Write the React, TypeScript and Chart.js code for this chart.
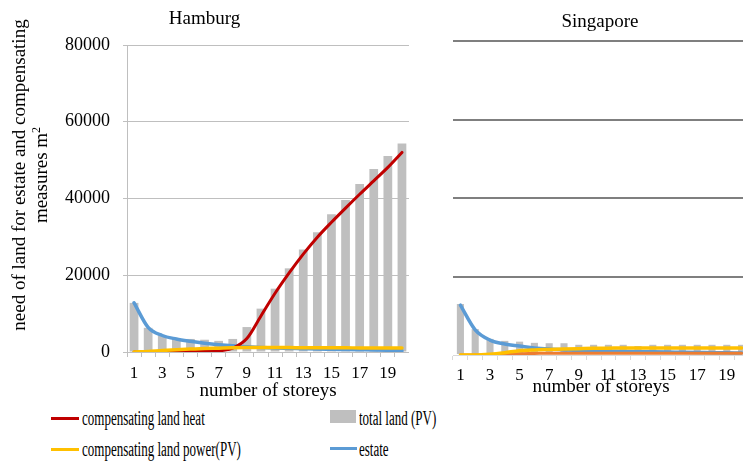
import React, { useEffect, useRef } from 'react';
import { Chart, registerables } from 'chart.js';

Chart.register(...registerables);

const FONT = "'Liberation Serif', 'Times New Roman', serif";

const storeys = ['1', '2', '3', '4', '5', '6', '7', '8', '9', '10', '11', '12', '13', '14', '15', '16', '17', '18', '19', '20'];
const yTickValues = [0, 20000, 40000, 60000, 80000];

// Hamburg
const hamburgTotal = [12800, 6300, 4200, 3600, 3400, 3200, 2900, 3400, 6500, 11300, 16500, 21800, 26700, 31200, 35900, 39600, 43800, 47700, 51100, 54300];
const hamburgHeat = [0, 0, 50, 100, 150, 200, 300, 1000, 3500, 9400, 15300, 20600, 25500, 29900, 33800, 37500, 41100, 44600, 48100, 52000];
const hamburgPower = [0, 150, 400, 600, 750, 900, 1000, 1100, 1150, 1150, 1150, 1150, 1100, 1100, 1100, 1100, 1050, 1050, 1050, 1050];
const hamburgEstate = [12800, 6400, 4300, 3400, 2800, 2300, 1900, 1600, 1400, 1200, 1050, 950, 850, 750, 700, 650, 600, 550, 450, 300];

// Singapore
const singaporeTotal = [13000, 6600, 4100, 3600, 3400, 3100, 3000, 3000, 2600, 2600, 2600, 2600, 2300, 2600, 2600, 2600, 2600, 2600, 2600, 2600];
const singaporeHeat = [0, 0, 50, 200, 350, 400, 450, 450, 450, 450, 450, 450, 450, 450, 450, 450, 450, 450, 450, 450];
const singaporePower = [0, 0, 200, 600, 1100, 1300, 1400, 1500, 1600, 1700, 1750, 1800, 1800, 1800, 1800, 1800, 1800, 1800, 1800, 1800];
const singaporeEstate = [12700, 6400, 3800, 2800, 2300, 1800, 1500, 1300, 1150, 1000, 950, 900, 850, 800, 750, 700, 650, 600, 550, 500];

const legendLabels = ['compensating land heat', 'compensating land power(PV)', 'total land (PV)', 'estate'];

const RED = '#C00000';
const ORANGE = '#ED7D31';
const YELLOW = '#FFC000';
const BLUE = '#5B9BD5';
const GRAY = '#BFBFBF';

function lineDs(label: string, data: number[], color: string, width: number, order: number) {
  return {
    type: 'line' as const,
    label,
    data,
    borderColor: color,
    backgroundColor: color,
    borderWidth: width,
    pointRadius: 0,
    cubicInterpolationMode: 'monotone' as const,
    borderCapStyle: 'round' as const,
    order,
  };
}

function makeConfig(kind: 'hamburg' | 'singapore'): any {
  const isH = kind === 'hamburg';
  const total = isH ? hamburgTotal : singaporeTotal;
  const heat = isH ? hamburgHeat : singaporeHeat;
  const power = isH ? hamburgPower : singaporePower;
  const estate = isH ? hamburgEstate : singaporeEstate;
  const axisCol = isH ? '#BFBFBF' : '#D9D9D9';
  return {
    type: 'bar',
    data: {
      labels: storeys,
      datasets: [
        lineDs(legendLabels[1], power, YELLOW, 3.5, 0),
        lineDs(legendLabels[0], heat, isH ? RED : ORANGE, 3, 1),
        lineDs(legendLabels[3], estate, BLUE, 3.5, 2),
        {
          type: 'bar',
          label: legendLabels[2],
          data: total,
          backgroundColor: GRAY,
          barPercentage: isH ? 0.62 : 0.48,
          categoryPercentage: 1,
          order: 3,
        },
      ],
    },
    options: {
      responsive: true,
      maintainAspectRatio: false,
      animation: false,
      layout: { padding: isH ? 0 : { left: 11 } },
      plugins: {
        legend: { display: false },
        tooltip: { enabled: false },
        title: {
          display: true,
          text: isH ? 'Hamburg' : 'Singapore',
          color: '#000',
          font: { family: FONT, size: 19, weight: 'normal' },
          padding: isH ? { top: 7.5, bottom: 14.7 } : { top: 10.6, bottom: 7.6 },
        },
      },
      scales: {
        x: {
          grid: {
            display: true,
            drawOnChartArea: false,
            drawTicks: true,
            tickLength: 5,
            color: axisCol,
            offset: true,
          },
          border: { display: true, color: axisCol },
          ticks: {
            autoSkip: false,
            maxRotation: 0,
            minRotation: 0,
            padding: isH ? 6 : 5,
            color: '#000',
            font: { family: FONT, size: 17 },
            callback: (_v: any, i: number) => (i % 2 === 0 ? storeys[i] : ''),
          },
          title: {
            display: true,
            text: 'number of storeys',
            color: '#000',
            font: { family: FONT, size: 19 },
            padding: { top: 0, bottom: 0 },
          },
          afterFit: (s: any) => {
            s.height = isH ? 50 : 43;
          },
        },
        y: {
          min: yTickValues[0],
          max: yTickValues[yTickValues.length - 1],
          afterBuildTicks: (s: any) => {
            s.ticks = yTickValues.map((v) => ({ value: v }));
          },
          ticks: {
            display: isH,
            padding: 13,
            color: '#000',
            font: { family: FONT, size: 18 },
            callback: (v: any) => String(v),
          },
          grid: isH
            ? { color: '#BFBFBF', lineWidth: 1, drawTicks: true, tickLength: 4 }
            : {
                color: (c: any) => (c.tick && c.tick.value === 0 ? 'rgba(0,0,0,0)' : '#7F7F7F'),
                lineWidth: 2,
                drawTicks: false,
              },
          border: isH ? { display: true, color: '#BFBFBF' } : { display: false },
          afterFit: (s: any) => {
            s.width = isH ? 127 : 2;
          },
        },
      },
    },
  };
}

function ChartBox(props: { kind: 'hamburg' | 'singapore'; style: React.CSSProperties }) {
  const ref = useRef<HTMLCanvasElement | null>(null);
  useEffect(() => {
    if (!ref.current) return;
    const chart = new Chart(ref.current, makeConfig(props.kind));
    return () => chart.destroy();
  }, [props.kind]);
  return (
    <div style={{ position: 'absolute', ...props.style }}>
      <canvas ref={ref} />
    </div>
  );
}

const legendText: React.CSSProperties = {
  position: 'absolute',
  fontFamily: FONT,
  fontSize: 20,
  lineHeight: '24px',
  color: '#000',
  whiteSpace: 'nowrap',
  transform: 'scaleX(0.65)',
  transformOrigin: 'left center',
};

export default function App() {
  return (
    <div
      style={{
        position: 'fixed',
        left: 0,
        top: 0,
        width: 743,
        height: 463,
        overflow: 'hidden',
        background: '#fff',
      }}
    >
      <ChartBox kind="hamburg" style={{ left: 0, top: 0, width: 409, height: 402 }} />
      <ChartBox kind="singapore" style={{ left: 440, top: 0, width: 309, height: 398 }} />

      <div
        style={{
          position: 'absolute',
          left: 30 - 200,
          top: 175 - 22,
          width: 400,
          height: 44,
          transform: 'rotate(-90deg)',
          transformOrigin: 'center center',
          fontFamily: FONT,
          fontSize: 19,
          lineHeight: '22px',
          textAlign: 'center',
          color: '#000',
          whiteSpace: 'nowrap',
        }}
      >
        <div>need of land for estate and compensating</div>
        <div>
          measures m<sup style={{ fontSize: 12, lineHeight: 0 }}>2</sup>
        </div>
      </div>

      <div style={{ position: 'absolute', left: 51, top: 416.5, width: 28, height: 3, background: RED }} />
      <div style={{ ...legendText, left: 82, top: 406 }}>{legendLabels[0]}</div>
      <div style={{ position: 'absolute', left: 51, top: 447.5, width: 28, height: 3, background: YELLOW }} />
      <div style={{ ...legendText, left: 82, top: 437 }}>{legendLabels[1]}</div>
      <div style={{ position: 'absolute', left: 330, top: 410, width: 26, height: 13, background: GRAY }} />
      <div style={{ ...legendText, left: 359, top: 406 }}>{legendLabels[2]}</div>
      <div style={{ position: 'absolute', left: 330, top: 446.5, width: 27, height: 3, background: BLUE }} />
      <div style={{ ...legendText, left: 359, top: 437 }}>{legendLabels[3]}</div>
    </div>
  );
}
